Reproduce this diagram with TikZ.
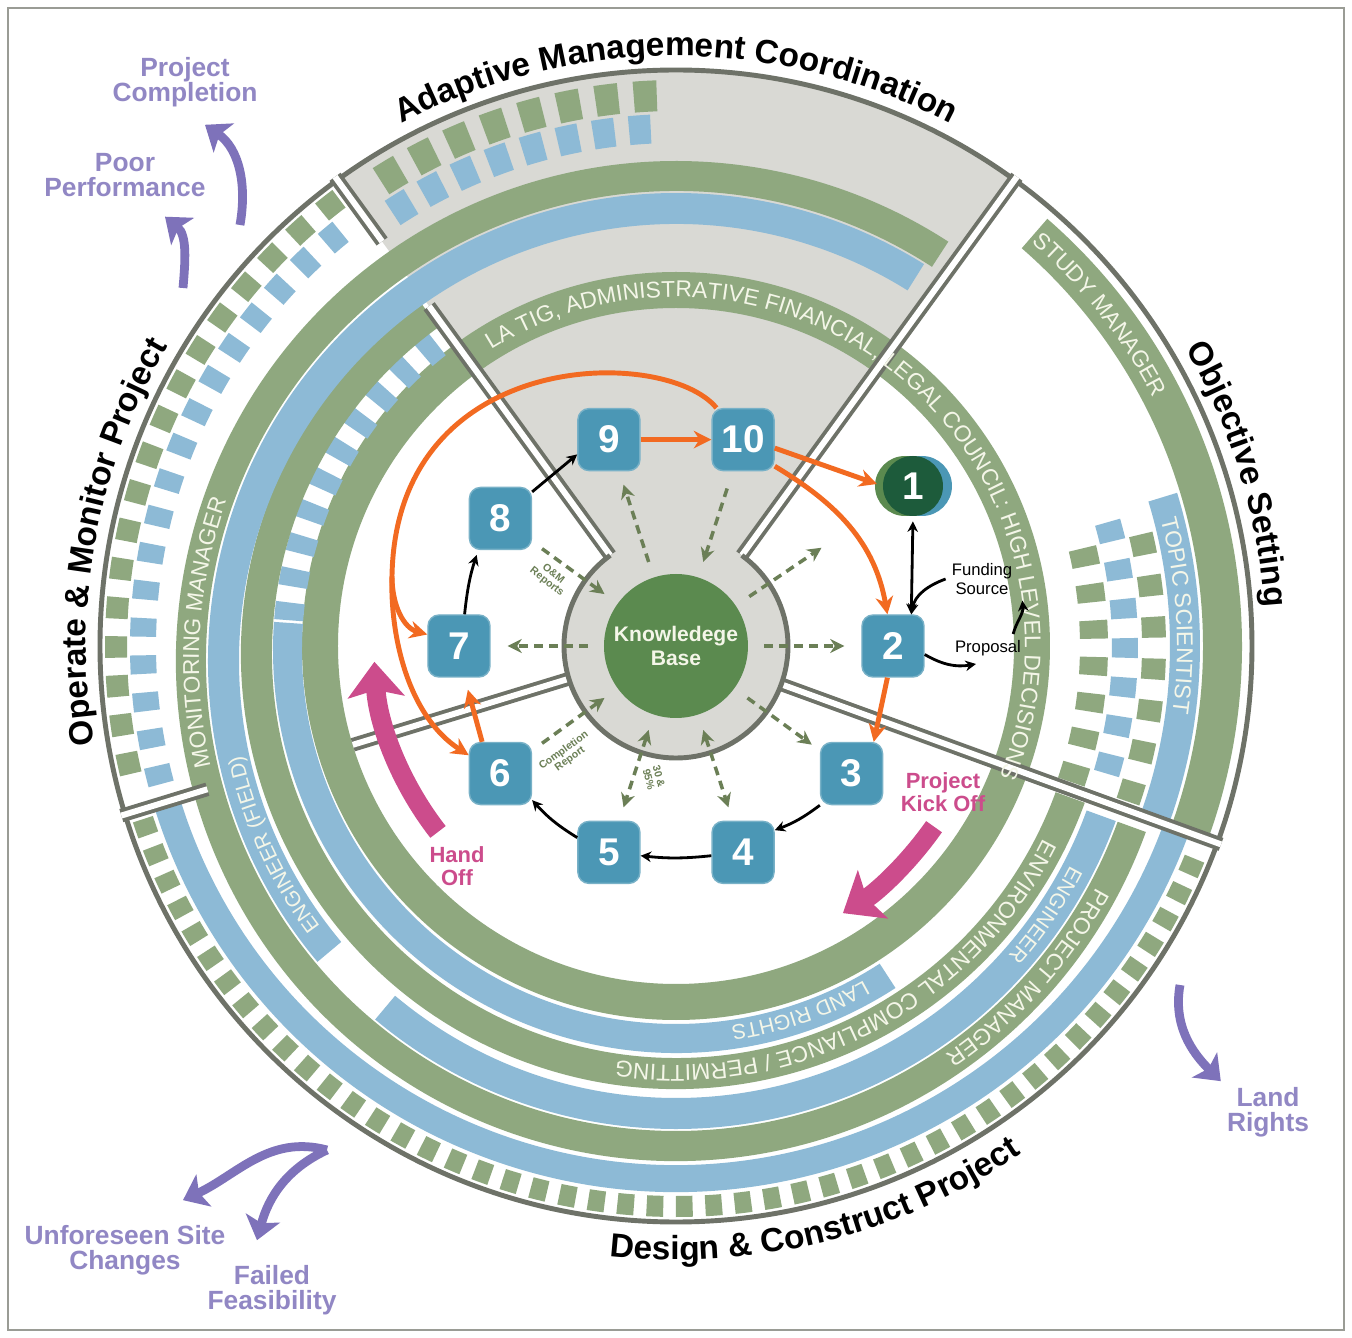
\documentclass[tikz,border=0pt]{standalone}
\usepackage{fontspec}
\setmainfont{Liberation Sans}
\newfontfamily\hel{Liberation Sans}
\usepackage{tikz}
\usetikzlibrary{arrows.meta, decorations.text, calc}

\definecolor{sage}{HTML}{8FA87F}
\definecolor{sky}{HTML}{8DBAD6}
\definecolor{wedge}{HTML}{D9D9D4}
\definecolor{rim}{HTML}{6E7268}
\definecolor{boxblue}{HTML}{4B97B5}
\definecolor{kbgreen}{HTML}{5B8A4F}
\definecolor{deepgreen}{HTML}{1D5B3B}
\definecolor{ornge}{HTML}{F26A21}
\definecolor{magen}{HTML}{CC4C8C}
\definecolor{lilac}{HTML}{7E72BA}
\definecolor{olive}{HTML}{6B7F56}
\definecolor{cream}{HTML}{F4F6E8}

% ring segment: centre shift, start, end, inner r, outer r, colour
\newcommand{\annul}[6]{\fill[#6] ($(0,#1)+({#2}:{#4})$) arc[start angle={#2},end angle={#3},radius={#4}] -- ($(0,#1)+({#3}:{#5})$) arc[start angle={#3},end angle={#2},radius={#5}] -- cycle;}
% text on an arc: centre shift, start, end, radius, format, text
\newcommand{\arctext}[6]{\path[decorate,decoration={text along path,text align=center,text={|#5|#6}}] ($(0,#1)+({#2}:{#4})$) arc[start angle={#2},end angle={#3},radius={#4}];}
\newcommand{\bandfont}{\hel\fontsize{13}{13}\selectfont\color{cream}}
\newcommand{\smallband}{\hel\fontsize{12}{12}\selectfont\color{cream}}
\newcommand{\titlefont}{\hel\bfseries\fontsize{19}{19}\selectfont\color{black}}

\tikzset{dtip/.tip={Stealth[length=8pt,width=8pt]}}

\begin{document}
\begin{tikzpicture}[
    x=0.2mm, y=0.2mm,
    numbox/.style={rectangle, rounded corners=2.2mm, minimum size=12.4mm, inner sep=0pt, fill=boxblue, draw=boxblue!75!white, line width=0.8pt, text=white, font=\hel\bfseries\fontsize{22}{22}\selectfont},
    onecirc/.style={circle, minimum size=12mm, inner sep=0pt, fill=deepgreen, text=white, font=\hel\bfseries\fontsize{22}{22}\selectfont},
    kbnode/.style={circle, minimum size=28.8mm, inner sep=0pt, fill=kbgreen, text=cream, align=center, font=\hel\bfseries\fontsize{12}{14}\selectfont},
    oarr/.style={draw=ornge, line width=2.8pt, -{Stealth[length=10pt,width=10pt]}},
    barr/.style={draw=black, line width=1.6pt, -{Stealth[length=6pt,width=6pt]}},
    darr/.style={draw=olive, line width=2pt, dash pattern=on 5pt off 3.5pt, shorten <=3.2mm},
    kickarr/.style={draw=magen, line width=11pt, -{Stealth[length=20pt,width=32pt,inset=4pt]}},
    lilacarr/.style={draw=lilac, line width=5pt, -{Stealth[length=13pt,width=20pt,inset=3pt]}},
    plab/.style={text=lilac!85!white, align=center, font=\hel\bfseries\fontsize{15}{14}\selectfont},
    mlab/.style={text=magen, align=center, font=\hel\bfseries\fontsize{12.5}{13}\selectfont},
    slab/.style={align=center, font=\hel\fontsize{9.5}{10.5}\selectfont},
    minilab/.style={text=olive, align=center, font=\hel\bfseries\fontsize{6}{6}\selectfont},
    divider/.style={draw=rim, line width=2.2pt, double=white, double distance=3.4pt},
    rimline/.style={draw=rim, line width=2.8pt}
]
\useasboundingbox (-676,-692) rectangle (676,646);
\fill[white] (-676,-692) rectangle (676,646);
\draw[rim!70, line width=0.8pt] (-668,-684) rectangle (668,638);

% Gray wedge and hub
\fill[wedge] (54:100) -- (54:576) arc[start angle=54,end angle=126,radius=576] -- (126:100) -- cycle;
\fill[wedge] (0,0) circle[radius=112];

% Role rings
\annul{0}{0}{360}{338}{374}{sage}
\annul{-4}{176}{303}{374}{403}{sky}
\foreach \a in {128,133,...,173} {\annul{-4}{\a}{\a+2.6}{374}{403}{sky}}
\annul{-8}{126}{340}{404}{435}{sage}
\annul{-15}{58}{220}{437}{468}{sky}
\annul{-15}{230}{340}{437}{468}{sky}
\annul{-15}{57}{340}{470}{500}{sage}
\annul{0}{197}{340}{519}{546}{sky}
\foreach \a in {198,201,...,336} {\annul{0}{\a}{\a+1.7}{550}{571}{sage}}
\foreach \a in {127,131,...,191} {\annul{0}{\a}{\a+2.2}{549}{571}{sage} \annul{0}{\a+2}{\a+4}{520}{546}{sky}}
\foreach \a in {92,96,...,120} {\annul{0}{\a}{\a+2.4}{535}{566}{sage} \annul{0}{\a+0.8}{\a+3.2}{503}{532}{sky}}
\annul{0}{-20}{49}{527}{566}{sage}
\annul{0}{-20}{17}{494}{524}{sky}
\foreach \a in {-19,-14,...,11} {\annul{0}{\a}{\a+2.5}{404}{432}{sage} \annul{0}{\a+2.5}{\a+5}{436}{462}{sky} \annul{0}{\a}{\a+2.5}{466}{490}{sage}}

% Sector outlines
\draw[rimline] (0,0) circle[radius=576];
\draw[divider] (54:112) -- (54:580);
\draw[divider] (126:112) -- (126:420);
\draw[divider] (126:500) -- (126:580);
\draw[divider] (197:112) -- (197:338);
\draw[divider] (197:490) -- (197:580);
\draw[divider] (340:112) -- (340:580);
\draw[rimline] (126:112) arc[start angle=126,end angle=414,radius=112];

% Ring labels
\arctext{0}{126}{-26}{349}{\bandfont}{LA TIG, ADMINISTRATIVE FINANCIAL, LEGAL COUNCIL: HIGH LEVEL DECISIONS}
\arctext{0}{52}{24}{538}{\bandfont}{STUDY MANAGER}
\arctext{0}{20}{-13}{501}{\bandfont}{TOPIC SCIENTIST}
\arctext{-15}{195}{158}{477}{\bandfont}{MONITORING MANAGER}
\arctext{-15}{221}{188}{444}{\smallband}{ENGINEER (FIELD)}
\arctext{-4}{302}{276}{380}{\smallband}{LAND RIGHTS}
\arctext{-8}{338}{257}{411}{\bandfont}{ENVIRONMENTAL COMPLIANCE / PERMITTING}
\arctext{-15}{336}{315}{444}{\smallband}{ENGINEER}
\arctext{-15}{334}{302}{477}{\bandfont}{PROJECT MANAGER}

% Phase titles
\arctext{0}{122}{58}{590}{\titlefont}{Adaptive Management Coordination}
\arctext{0}{34}{0}{590}{\titlefont}{Objective Setting}
\arctext{0}{195}{144}{590}{\titlefont}{Operate {\&} Monitor Project}
\arctext{0}{257}{311}{614}{\titlefont}{Design {\&} Construct Project}

% Nodes
\node[kbnode] (kb) at (0,0) {Knowledege\\Base};
\node[numbox] (n2) at (0:217) {2};
\node[numbox] (n3) at (-36:217) {3};
\node[numbox] (n4) at (-72:217) {4};
\node[numbox] (n5) at (-108:217) {5};
\node[numbox] (n6) at (-144:217) {6};
\node[numbox] (n7) at (180:217) {7};
\node[numbox] (n8) at (144:217) {8};
\node[numbox] (n9) at (108:217) {9};
\node[numbox] (n10) at (72:217) {10};
\fill[boxblue] (246,160) circle[radius=30];
\fill[kbgreen] (229,160) circle[radius=30];
\node[onecirc] (n1) at (237,160) {1};

\node[slab] (fund) at (306,67) {Funding\\Source};
\node[slab] (prop) at (312,-2) {Proposal};
\node[minilab, rotate=-38] (om) at (-126,68) {O\&M\\Reports};
\node[minilab, rotate=36] (cr) at (-109,-109) {Completion\\Report};
\node[minilab, rotate=-75] (pct) at (-22,-132) {30 \&\\95\%};

\node[mlab] (hand) at (-219,-220) {Hand\\Off};
\node[mlab] (kick) at (267,-146) {Project\\Kick Off};
\node[plab] (pcomp) at (-491,564) {Project\\Completion};
\node[plab] (poor) at (-551,471) {Poor\\Performance};
\node[plab] (landr) at (592,-466) {Land\\Rights};
\node[plab] (unfo) at (-551,-604) {Unforeseen Site\\Changes};
\node[plab] (fail) at (-404,-644) {Failed\\Feasibility};

% Knowledge links
\draw[darr, -dtip, shorten >=3.4mm] (kb) -- (n7);
\draw[darr, -dtip, shorten >=3.4mm] (kb) -- (n2);
\draw[darr, -dtip, shorten >=2.8mm] (kb) -- (n9);
\draw[darr, dtip-, shorten >=2.8mm] (kb) -- (n10);
\draw[darr, dtip-, shorten >=2mm] (kb) -- (n8);
\draw[darr, dtip-, shorten >=2mm] (kb) -- (n6);
\draw[darr, -dtip, shorten >=2mm] (kb) -- (n3);
\draw[darr, -dtip, shorten >=16mm] (kb) -- (n1);
\draw[darr, dtip-dtip, shorten >=2.8mm] (kb) -- (n5);
\draw[darr, dtip-dtip, shorten >=2.8mm] (kb) -- (n4);

% Cycle
\draw[barr, shorten >=1mm] (n7.80) to[bend left=6] (n8.235);
\draw[barr] (n8.40) -- (n9.205);
\draw[barr] (n5.155) to[bend left=8] (n6.-40);
\draw[barr] (n4) to[bend left=6] (n5);
\draw[barr] (n3.225) to[bend left=8] (n4.35);
\draw[barr, {Stealth[length=6pt,width=6pt]}-{Stealth[length=6pt,width=6pt]}, shorten >=1mm] (n2.60) -- (n1.south);
\draw[barr] (fund.west) to[out=200,in=80] (n2.60);
\draw[barr] (n2.-15) to[out=-30,in=190] ($(prop.south)+(-12,-2)$);
\draw[barr] ($(prop.north east)+(-14,0)$) to[out=75,in=-85] ($(fund.south east)+(4,0)$);

% Orange flow
\draw[oarr] (n9) -- (n10);
\draw[oarr, shorten >=1.2mm] (n10.-15) -- (n1.180);
\draw[oarr] (n10.-40) to[out=-31,in=100] (n2.100);
\draw[oarr] (n2.-100) -- (n3.55);
\coordinate (split) at (-284,70);
\draw[draw=ornge, line width=2.8pt] (n10.130) .. controls (-10,300) and (-280,300) .. (split);
\draw[oarr] (split) .. controls (-286,10) and (-268,-70) .. (n6.150);
\draw[oarr] (split) .. controls (-284,40) and (-272,18) .. (n7.160);
\draw[oarr, shorten >=2.5mm] (n6.120) -- (n7.-80);

% Hand off / kick off
\coordinate (hoT) at (218:302);
\draw[kickarr] (hoT) arc[start angle=218,end angle=183,radius=302];
\coordinate (koT) at (325:315);
\draw[kickarr] (koT) arc[start angle=325,end angle=302,radius=315];

% Exits
\coordinate (pcT) at (-436,421);
\draw[lilacarr] (pcT) to[out=80,in=-35] ($(pcomp.south)+(20,-12)$);
\coordinate (ppT) at (-493,358);
\draw[lilacarr] (ppT) to[out=85,in=-40] ($(poor.south)+(40,-14)$);
\coordinate (lrT) at (504,-339);
\draw[lilacarr] (lrT) to[out=-100,in=135] (landr.north west);
\coordinate (fsT) at (-349,-504);
\draw[lilacarr] (fsT) to[out=165,in=25] ($(unfo.north)+(58,19)$);
\draw[lilacarr] (fsT) to[out=205,in=75] ($(fail.north)+(-15,19)$);

\end{tikzpicture}
\end{document}
